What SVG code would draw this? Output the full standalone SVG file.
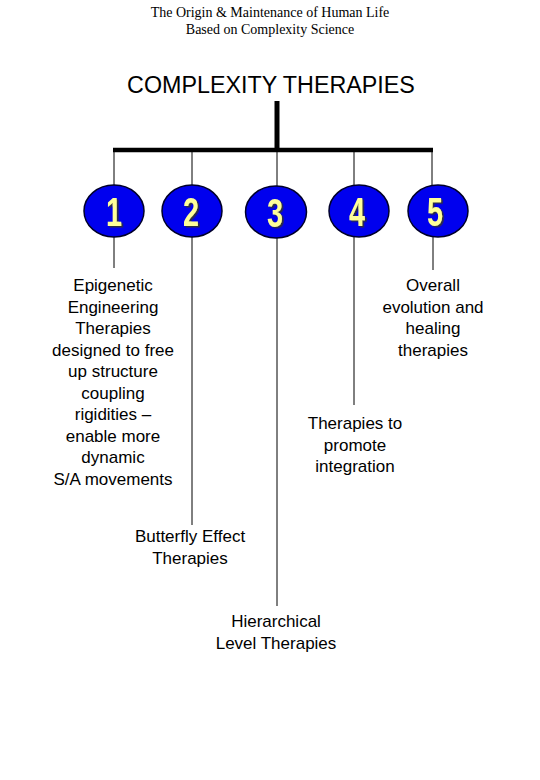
<svg xmlns="http://www.w3.org/2000/svg" width="540" height="780" viewBox="0 0 540 780">
<style>
.hdr{font-family:"Liberation Serif","Times New Roman",serif;font-size:14px;fill:#000;text-anchor:middle}
.ttl{font-family:"Liberation Sans",Arial,sans-serif;font-size:23.3px;fill:#000;text-anchor:middle}
.lbl{font-family:"Liberation Sans",Arial,sans-serif;font-size:17px;fill:#000;text-anchor:middle}
.circ{fill:#0000EE;stroke:#00002a;stroke-width:1.5}
.num{font-family:"Liberation Sans",Arial,sans-serif;font-weight:bold;font-size:40px;text-anchor:middle;fill:#FFFF99;filter:url(#sh)}
.ln{stroke:#000;stroke-width:1;fill:none}
</style>
<defs>
<filter id="sh" x="-40%" y="-30%" width="180%" height="160%">
<feDropShadow dx="2.5" dy="1.5" stdDeviation="0.3" flood-color="#333" flood-opacity="0.9"/>
</filter>
</defs>
<rect width="540" height="780" fill="#fff"/>
<text class="hdr" x="270" y="17">The Origin &amp; Maintenance of Human Life</text>
<text class="hdr" x="270" y="34">Based on Complexity Science</text>
<text class="ttl" x="271" y="93">COMPLEXITY THERAPIES</text>
<g id="connectors">
<line x1="277" y1="101" x2="277" y2="150" stroke="#000" stroke-width="5"/>
<line x1="113" y1="150" x2="433" y2="150" stroke="#000" stroke-width="4.5"/>
<line class="ln" x1="114" y1="150" x2="114" y2="186"/>
<line class="ln" x1="192" y1="150" x2="192" y2="186"/>
<line class="ln" x1="277" y1="150" x2="277" y2="186"/>
<line class="ln" x1="354" y1="150" x2="354" y2="186"/>
<line class="ln" x1="432" y1="150" x2="432" y2="186"/>
<line class="ln" x1="114" y1="237" x2="114" y2="268"/>
<line class="ln" x1="192" y1="237" x2="192" y2="525"/>
<line class="ln" x1="277" y1="238" x2="277" y2="606"/>
<line class="ln" x1="354" y1="237" x2="354" y2="405"/>
<line class="ln" x1="433" y1="237" x2="433" y2="270"/>
</g>
<g id="node1">
<ellipse class="circ" cx="114" cy="211" rx="30" ry="26"/>
<text class="num" transform="translate(114,226) scale(0.72,1)">1</text>
</g>
<g id="node2">
<ellipse class="circ" cx="192" cy="211" rx="30" ry="26"/>
<text class="num" transform="translate(191,226) scale(0.72,1)">2</text>
</g>
<g id="node3">
<ellipse class="circ" cx="276" cy="212" rx="30.5" ry="26"/>
<text class="num" transform="translate(275,227) scale(0.72,1)">3</text>
</g>
<g id="node4">
<ellipse class="circ" cx="359" cy="211" rx="30" ry="26"/>
<text class="num" transform="translate(357,226) scale(0.72,1)">4</text>
</g>
<g id="node5">
<ellipse class="circ" cx="438" cy="211" rx="30" ry="26"/>
<text class="num" transform="translate(435,226) scale(0.72,1)">5</text>
</g>
<g id="label1">
<text class="lbl" x="113" y="291">Epigenetic</text>
<text class="lbl" x="113" y="312.5">Engineering</text>
<text class="lbl" x="113" y="334">Therapies</text>
<text class="lbl" x="113" y="355.5">designed to free</text>
<text class="lbl" x="113" y="377">up structure</text>
<text class="lbl" x="113" y="398.5">coupling</text>
<text class="lbl" x="113" y="420">rigidities –</text>
<text class="lbl" x="113" y="441.5">enable more</text>
<text class="lbl" x="113" y="463">dynamic</text>
<text class="lbl" x="113" y="484.5">S/A movements</text>
</g>
<g id="label2">
<text class="lbl" x="190" y="542">Butterfly Effect</text>
<text class="lbl" x="190" y="563.5">Therapies</text>
</g>
<g id="label3">
<text class="lbl" x="276" y="627">Hierarchical</text>
<text class="lbl" x="276" y="648.5">Level Therapies</text>
</g>
<g id="label4">
<text class="lbl" x="355" y="429">Therapies to</text>
<text class="lbl" x="355" y="450.5">promote</text>
<text class="lbl" x="355" y="472">integration</text>
</g>
<g id="label5">
<text class="lbl" x="433" y="291">Overall</text>
<text class="lbl" x="433" y="312.5">evolution and</text>
<text class="lbl" x="433" y="334">healing</text>
<text class="lbl" x="433" y="355.5">therapies</text>
</g>
</svg>
